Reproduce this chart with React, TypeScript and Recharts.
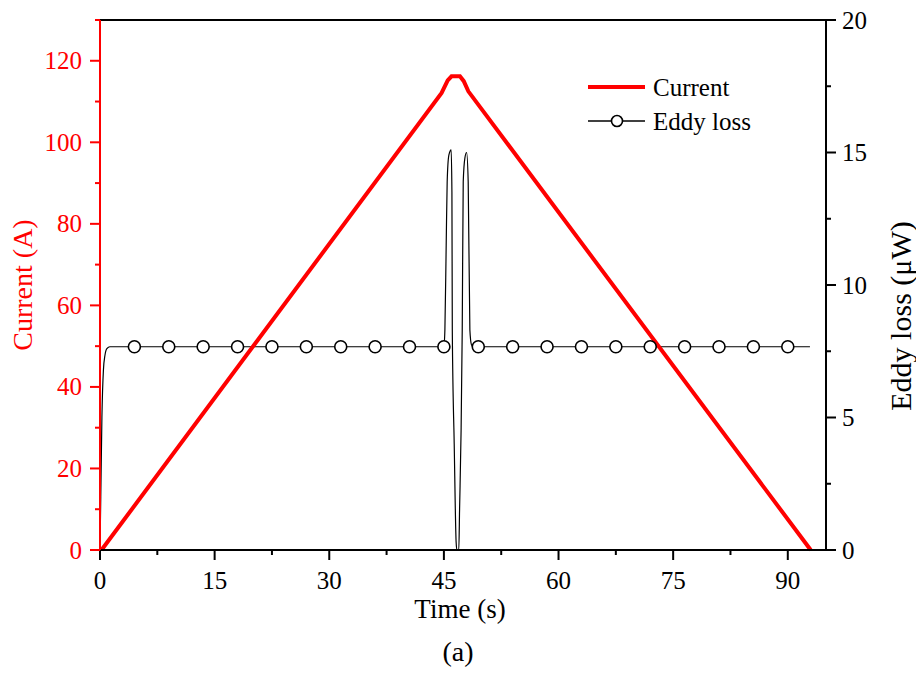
import React from 'react';
import { ComposedChart, Line, XAxis, YAxis, ReferenceLine, Label } from 'recharts';

const FONT = 'Liberation Serif';

// current ramp (A) vs time (s)
const currentTime = [0.2, 44.7, 45.5, 46.0, 47.1, 47.6, 48.2, 93.0];
const currentAmps = [0, 112.1, 115.2, 116.2, 116.2, 115.0, 112.5, 0];

// eddy loss (uW) vs time (s)
const eddyTime = [
  0, 0.1, 0.25, 0.45, 0.65, 0.9, 1.3, 45.0, 45.13, 45.3, 45.43, 45.65, 45.95, 46.05, 46.1,
  46.35, 46.6, 46.7, 46.95, 47.05, 47.25, 47.4, 47.53, 47.75, 47.97, 48.18, 48.4, 48.6, 48.8, 92.9,
];
const eddyLoss = [
  0, 2, 5, 6.8, 7.35, 7.6, 7.67, 7.67, 8.3, 11.5, 13.9, 14.9, 15.1, 13.5, 8.3,
  4, 0.3, 0, 0, 1.5, 4.5, 8.3, 13.9, 14.8, 15.0, 13.9, 8.3, 7.75, 7.67, 7.67,
];

// symbol positions on the eddy loss curve
const markerTime = [4.5, 9, 13.5, 18, 22.5, 27, 31.5, 36, 40.5, 45, 49.5, 54, 58.5, 63, 67.5, 72, 76.5, 81, 85.5, 90];
const markerLoss = [7.67, 7.67, 7.67, 7.67, 7.67, 7.67, 7.67, 7.67, 7.67, 7.67, 7.67, 7.67, 7.67, 7.67, 7.67, 7.67, 7.67, 7.67, 7.67, 7.67];

const timeTicks = [0, 7.5, 15, 22.5, 30, 37.5, 45, 52.5, 60, 67.5, 75, 82.5, 90];
const currentTicks = [0, 10, 20, 30, 40, 50, 60, 70, 80, 90, 100, 110, 120, 130];
const lossTicks = [0, 2.5, 5, 7.5, 10, 12.5, 15, 17.5, 20];

const legendItems = [
  { name: 'Current', color: '#ff0000', width: 4, marker: false },
  { name: 'Eddy loss', color: '#000000', width: 1.3, marker: true },
];

const currentData = currentTime.map((t, i) => ({ t, current: currentAmps[i] }));
const eddyData = eddyTime.map((t, i) => ({ t, loss: eddyLoss[i] }));
const markerData = markerTime.map((t, i) => ({ t, loss: markerLoss[i] }));

const txt = (size: number, color: string) => ({ fontFamily: FONT, fontSize: size, fill: color });

const LeftTick = ({ x, y, payload }: any) => {
  const major = payload.value % 20 === 0;
  return (
    <g>
      <line x1={x} x2={x - (major ? 10 : 5)} y1={y} y2={y} stroke="#ff0000" strokeWidth={2} />
      {major && (
        <text x={x - 18} y={y} dy={8.5} textAnchor="end" style={txt(25, '#ff0000')}>
          {payload.value}
        </text>
      )}
    </g>
  );
};

const RightTick = ({ x, y, payload }: any) => {
  const major = payload.value % 5 === 0;
  return (
    <g>
      <line x1={x} x2={x + (major ? 10 : 5)} y1={y} y2={y} stroke="#000" strokeWidth={2} />
      {major && (
        <text x={x + 16} y={y} dy={8.5} textAnchor="start" style={txt(25, '#000')}>
          {payload.value}
        </text>
      )}
    </g>
  );
};

const BottomTick = ({ x, y, payload }: any) => {
  const major = payload.value % 15 === 0;
  return (
    <g>
      <line x1={x} x2={x} y1={y} y2={y + (major ? 10 : 5)} stroke="#000" strokeWidth={2} />
      {major && (
        <text x={x} y={y + 39} textAnchor="middle" style={txt(25, '#000')}>
          {payload.value}
        </text>
      )}
    </g>
  );
};

const Marker = ({ cx, cy }: any) => (
  <circle cx={cx} cy={cy} r={6} fill="#fff" stroke="#000" strokeWidth={1.6} />
);

export default function App() {
  return (
    <div style={{ position: 'absolute', left: 0, top: 0, width: 916, height: 675, background: '#fff' }}>
      <ComposedChart width={916} height={675} margin={{ top: 20, right: 0, bottom: 0, left: 0 }}>
        <XAxis
          xAxisId="t"
          dataKey="t"
          type="number"
          domain={[0, 95]}
          ticks={timeTicks}
          interval={0}
          height={125}
          tickSize={0}
          tickMargin={0}
          tick={<BottomTick />}
          axisLine={{ stroke: '#000', strokeWidth: 2 }}
        >
          <Label
            content={({ viewBox }: any) => (
              <g>
                <text x={viewBox.x + viewBox.width / 2 - 3} y={viewBox.y + 68} textAnchor="middle" style={txt(27, '#000')}>
                  Time (s)
                </text>
                <text x={viewBox.x + viewBox.width / 2 - 5} y={viewBox.y + 111} textAnchor="middle" style={txt(28, '#000')}>
                  (a)
                </text>
              </g>
            )}
          />
        </XAxis>
        <YAxis
          yAxisId="left"
          type="number"
          domain={[0, 130]}
          ticks={currentTicks}
          interval={0}
          width={100}
          tickSize={0}
          tickMargin={0}
          tick={<LeftTick />}
          axisLine={{ stroke: '#ff0000', strokeWidth: 2 }}
        >
          <Label
            content={({ viewBox }: any) => {
              const cy = viewBox.y + viewBox.height / 2;
              return (
                <text
                  x={22}
                  y={cy}
                  transform={`rotate(-90 22 ${cy})`}
                  textAnchor="middle"
                  dominantBaseline="central"
                  style={txt(28, '#ff0000')}
                >
                  Current (A)
                </text>
              );
            }}
          />
        </YAxis>
        <YAxis
          yAxisId="right"
          orientation="right"
          type="number"
          domain={[0, 20]}
          ticks={lossTicks}
          interval={0}
          width={90}
          tickSize={0}
          tickMargin={0}
          tick={<RightTick />}
          axisLine={{ stroke: '#000', strokeWidth: 2 }}
        >
          <Label
            content={({ viewBox }: any) => {
              const cx = viewBox.x + 74;
              const cy = viewBox.y + viewBox.height / 2 + 31;
              return (
                <text
                  x={cx}
                  y={cy}
                  transform={`rotate(-90 ${cx} ${cy})`}
                  textAnchor="middle"
                  dominantBaseline="central"
                  style={txt(30, '#000')}
                >
                  Eddy loss (μW)
                </text>
              );
            }}
          />
        </YAxis>
        <ReferenceLine xAxisId="t" yAxisId="left" y={130} stroke="#000" strokeWidth={2} />
        <Line
          xAxisId="t"
          yAxisId="right"
          data={eddyData}
          dataKey="loss"
          type="monotone"
          stroke="#000"
          strokeWidth={1.2}
          dot={false}
          isAnimationActive={false}
        />
        <Line
          xAxisId="t"
          yAxisId="right"
          data={markerData}
          dataKey="loss"
          stroke="none"
          dot={<Marker />}
          isAnimationActive={false}
        />
        <Line
          xAxisId="t"
          yAxisId="left"
          data={currentData}
          dataKey="current"
          type="linear"
          stroke="#ff0000"
          strokeWidth={4}
          dot={false}
          isAnimationActive={false}
        />
      </ComposedChart>
      <svg width={916} height={675} style={{ position: 'absolute', left: 0, top: 0, pointerEvents: 'none' }}>
        {legendItems.map((item, i) => {
          const y = 87 + i * 34;
          return (
            <g key={item.name}>
              <line x1={588} x2={645} y1={y} y2={y} stroke={item.color} strokeWidth={item.width} />
              {item.marker && <circle cx={617} cy={y} r={5.5} fill="#fff" stroke="#000" strokeWidth={1.6} />}
              <text x={653} y={y + 9} style={txt(25, '#000')}>
                {item.name}
              </text>
            </g>
          );
        })}
      </svg>
    </div>
  );
}
